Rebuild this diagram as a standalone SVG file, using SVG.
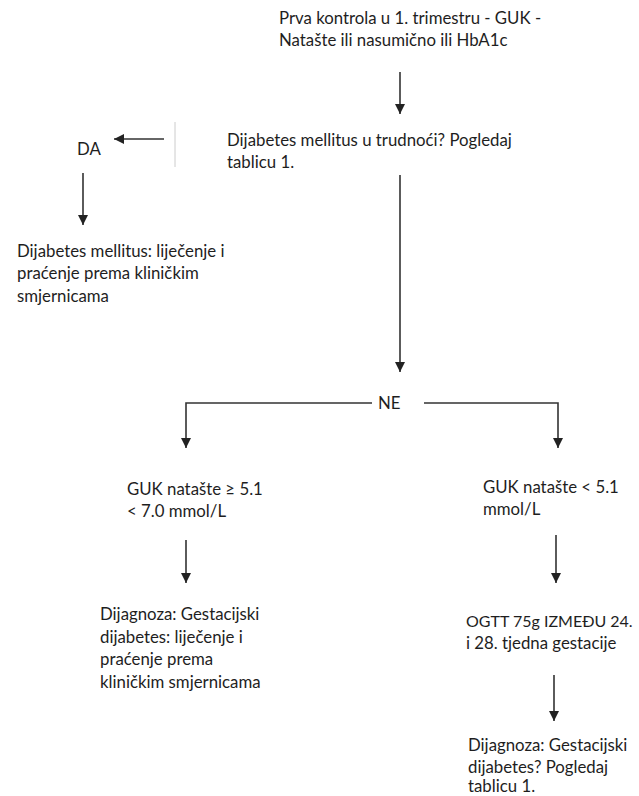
<svg xmlns="http://www.w3.org/2000/svg" width="639" height="796" viewBox="0 0 639 796">
<style>
text{font-family:Lato,"Open Sans","Liberation Sans",sans-serif;font-size:16.8px;fill:#1e1e1e}
.c{stroke:#333;stroke-width:1.6;fill:none}
</style>
<defs>
<marker id="ah" viewBox="0 0 10 12" refX="10" refY="6" markerWidth="10" markerHeight="12" markerUnits="userSpaceOnUse" orient="auto">
<path d="M0,1 L10,6 L0,11 Z" fill="#222"/>
</marker>
</defs>
<rect width="639" height="796" fill="#fff"/>
<g id="connectors">
<line class="c" x1="400" y1="72" x2="400" y2="114" marker-end="url(#ah)"/>
<line x1="175" y1="122" x2="175" y2="167" stroke="#ccc" stroke-width="1"/>
<line class="c" x1="164" y1="139" x2="114" y2="139" marker-end="url(#ah)"/>
<line class="c" x1="83" y1="173" x2="83" y2="225" marker-end="url(#ah)"/>
<line class="c" x1="400" y1="175" x2="400" y2="372" marker-end="url(#ah)"/>
<polyline class="c" points="372,403 186,403 186,448" marker-end="url(#ah)"/>
<polyline class="c" points="424,403 558,403 558,448" marker-end="url(#ah)"/>
<line class="c" x1="186" y1="540" x2="186" y2="583" marker-end="url(#ah)"/>
<line class="c" x1="556" y1="535" x2="556" y2="583" marker-end="url(#ah)"/>
<line class="c" x1="554" y1="675" x2="554" y2="721" marker-end="url(#ah)"/>
</g>
<g id="start"><text x="279" y="24">Prva kontrola u 1. trimestru - GUK -</text><text x="279" y="46">Natašte ili nasumično ili HbA1c</text></g>
<g id="question"><text x="227" y="146">Dijabetes mellitus u trudnoći? Pogledaj</text><text x="227" y="168">tablicu 1.</text></g>
<g id="da"><text x="77" y="155">DA</text></g>
<g id="dm"><text x="17" y="257">Dijabetes mellitus: liječenje i</text><text x="17" y="279">praćenje prema kliničkim</text><text x="17" y="302">smjernicama</text></g>
<g id="ne"><text x="378" y="409">NE</text></g>
<g id="guk-high"><text x="127" y="495">GUK natašte ≥ 5.1</text><text x="127" y="517">&lt; 7.0 mmol/L</text></g>
<g id="guk-low"><text x="483" y="493">GUK natašte &lt; 5.1</text><text x="483" y="515">mmol/L</text></g>
<g id="gdm"><text x="100" y="620">Dijagnoza: Gestacijski</text><text x="100" y="643">dijabetes: liječenje i</text><text x="100" y="665">praćenje prema</text><text x="100" y="688">kliničkim smjernicama</text></g>
<g id="ogtt"><text x="466" y="627" style="font-size:16px">OGTT 75g IZMEĐU 24.</text><text x="466" y="649">i 28. tjedna gestacije</text></g>
<g id="gdm-q"><text x="468" y="751">Dijagnoza: Gestacijski</text><text x="468" y="773">dijabetes? Pogledaj</text><text x="468" y="792">tablicu 1.</text></g>
</svg>
